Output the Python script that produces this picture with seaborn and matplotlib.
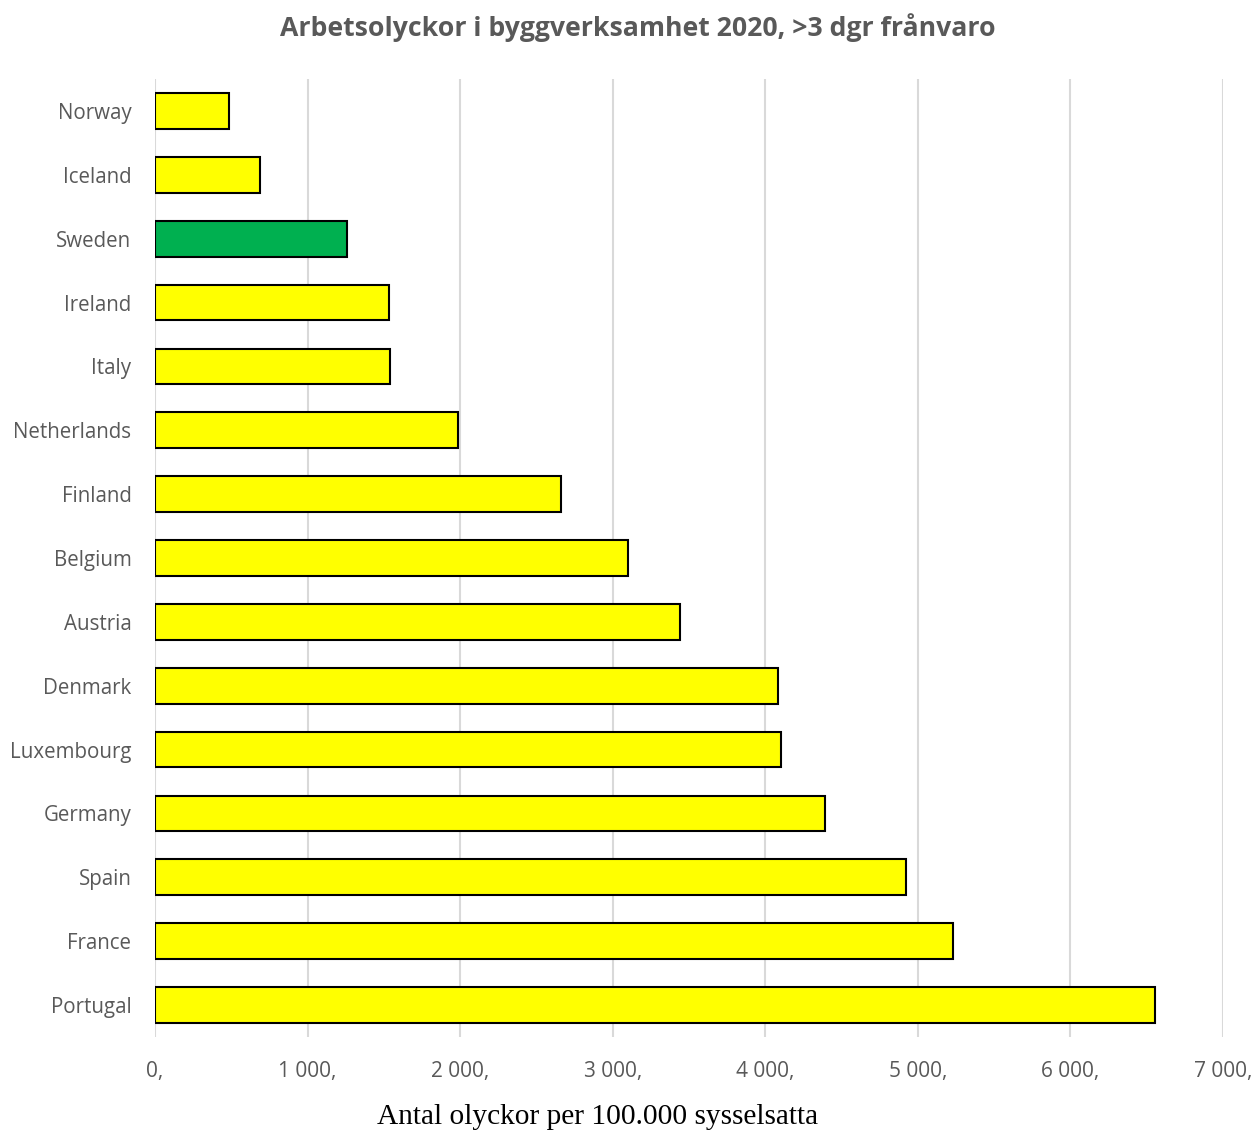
import numpy as np
import pandas as pd
import matplotlib
matplotlib.use('Agg')
import matplotlib.pyplot as plt
import seaborn as sns

# Data
countries = ['Norway', 'Iceland', 'Sweden', 'Ireland', 'Italy', 'Netherlands',
             'Finland', 'Belgium', 'Austria', 'Denmark', 'Luxembourg',
             'Germany', 'Spain', 'France', 'Portugal']
accidents = [485, 688, 1258, 1533, 1540, 1986, 2661, 3100, 3440, 4083,
             4102, 4391, 4921, 5229, 6553]
highlight = 'Sweden'
xticks = [0, 1000, 2000, 3000, 4000, 5000, 6000, 7000]

df = pd.DataFrame({'country': countries, 'value': accidents})
palette = {c: ('#00B050' if c == highlight else '#FFFF00') for c in countries}

sns.set_style('white')
plt.rcParams['font.family'] = ['Open Sans', 'DejaVu Sans']

fig = plt.figure(figsize=(12.55, 11.33), dpi=100)
ax = fig.add_axes([155 / 1255, 1 - 1037 / 1133, (1223 - 155) / 1255, (1037 - 79) / 1133])

sns.barplot(data=df, y='country', x='value', hue='country', palette=palette,
            order=countries, legend=False, width=0.56, edgecolor='black',
            linewidth=1.5, saturation=1, ax=ax, zorder=3)

ax.set_xlim(0, 7000)
ax.set_xticks(xticks)
ax.set_xticklabels([f'{v:,}'.replace(',', ' ') + ',' for v in xticks])
ax.grid(axis='x', color='#D9D9D9', linewidth=1.5, zorder=0)
ax.grid(axis='y', visible=False)
for s in ax.spines.values():
    s.set_visible(False)
ax.tick_params(axis='x', length=0, pad=17, labelsize=15, labelcolor='#595959')
ax.tick_params(axis='y', length=0, pad=17, labelsize=14.8, labelcolor='#595959')
ax.set_ylabel('')
ax.set_xlabel('')

fig.text(598 / 1255, 1 - 1117 / 1133, 'Antal olyckor per 100.000 sysselsatta',
         family='Liberation Serif', fontsize=21.2, color='black',
         ha='center', va='center')

fig.suptitle('Arbetsolyckor i byggverksamhet 2020, >3 dgr frånvaro', x=638 / 1255,
             y=1 - 28 / 1133, va='center', fontsize=19.2, fontweight='bold',
             color='#595959')

fig.savefig('out.png', dpi=100)
